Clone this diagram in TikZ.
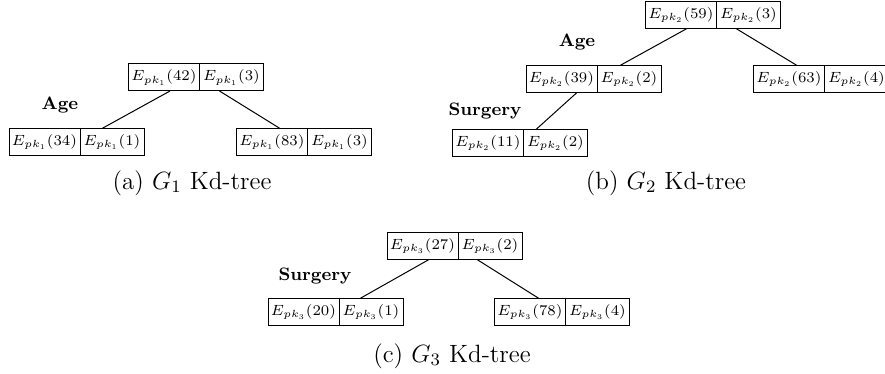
\RequirePackage{fix-cm}
\documentclass[tikz,border=0pt]{standalone}
\begin{document}
\begin{tikzpicture}[x=0.5pt,y=-0.5pt,
  cellbase/.style={draw, line width=0.5pt, inner sep=0pt, outer sep=0pt,
    minimum height=13.5pt, font=\fontsize{7.4}{9}\selectfont},
  cellone/.style={cellbase, minimum width=35.5pt},
  celltwo/.style={cellbase, minimum width=32pt, anchor=west},
  attr/.style={font=\fontsize{9}{11}\selectfont\bfseries},
  capt/.style={font=\fontsize{12.5}{15}\selectfont},
  edge/.style={line width=0.5pt}]
\useasboundingbox (0,0) rectangle (885,374);

% (a)
\node[cellone] (a1) at (164,77.5) {$E_{pk_1}(42)$};
\node[celltwo] (a2) at (a1.east) {$E_{pk_1}(3)$};
\node[cellone] (al1) at (44.5,142) {$E_{pk_1}(34)$};
\node[celltwo] (al2) at (al1.east) {$E_{pk_1}(1)$};
\node[cellone] (ar1) at (272,142) {$E_{pk_1}(83)$};
\node[celltwo] (ar2) at (ar1.east) {$E_{pk_1}(3)$};
\draw[edge] ([xshift=3pt]a1.south) -- ([xshift=-5pt]al2.north);
\draw[edge] ([xshift=-6pt]a2.south) -- ([xshift=4pt]ar1.north);
\node[attr] (ageA) at (60,105) {Age};
\node[capt] (capA) at (192,183) {(a) $G_1$ Kd-tree};

% (b)
\node[cellone] (b1) at (681,15) {$E_{pk_2}(59)$};
\node[celltwo] (b2) at (b1.east) {$E_{pk_2}(3)$};
\node[cellone] (bm1) at (561.5,79) {$E_{pk_2}(39)$};
\node[celltwo] (bm2) at (bm1.east) {$E_{pk_2}(2)$};
\node[cellone] (br1) at (789,79) {$E_{pk_2}(63)$};
\node[celltwo] (br2) at (br1.east) {$E_{pk_2}(4)$};
\node[cellone] (bb1) at (488,143) {$E_{pk_2}(11)$};
\node[celltwo] (bb2) at (bb1.east) {$E_{pk_2}(2)$};
\draw[edge] ([xshift=3pt]b1.south) -- ([xshift=-4.5pt]bm2.north);
\draw[edge] ([xshift=-6.25pt]b2.south) -- ([xshift=4pt]br1.north);
\draw[edge] ([xshift=7.75pt]bm1.south) -- ([xshift=-9.75pt]bb2.north);
\node[attr] (ageB) at (577,42) {Age};
\node[attr] (surB) at (485,111) {Surgery};
\node[capt] (capB) at (666,183) {(b) $G_2$ Kd-tree};

% (c)
\node[cellone] (c1) at (422.5,246) {$E_{pk_3}(27)$};
\node[celltwo] (c2) at (c1.east) {$E_{pk_3}(2)$};
\node[cellone] (cl1) at (303.5,312) {$E_{pk_3}(20)$};
\node[celltwo] (cl2) at (cl1.east) {$E_{pk_3}(1)$};
\node[cellone] (cr1) at (530,312) {$E_{pk_3}(78)$};
\node[celltwo] (cr2) at (cr1.east) {$E_{pk_3}(4)$};
\draw[edge] ([xshift=3.25pt]c1.south) -- ([xshift=-5.5pt]cl2.north);
\draw[edge] ([xshift=-6.5pt]c2.south) -- ([xshift=4.5pt]cr1.north);
\node[attr] (surC) at (315,276) {Surgery};
\node[capt] (capC) at (452,356) {(c) $G_3$ Kd-tree};
\end{tikzpicture}
\end{document}
